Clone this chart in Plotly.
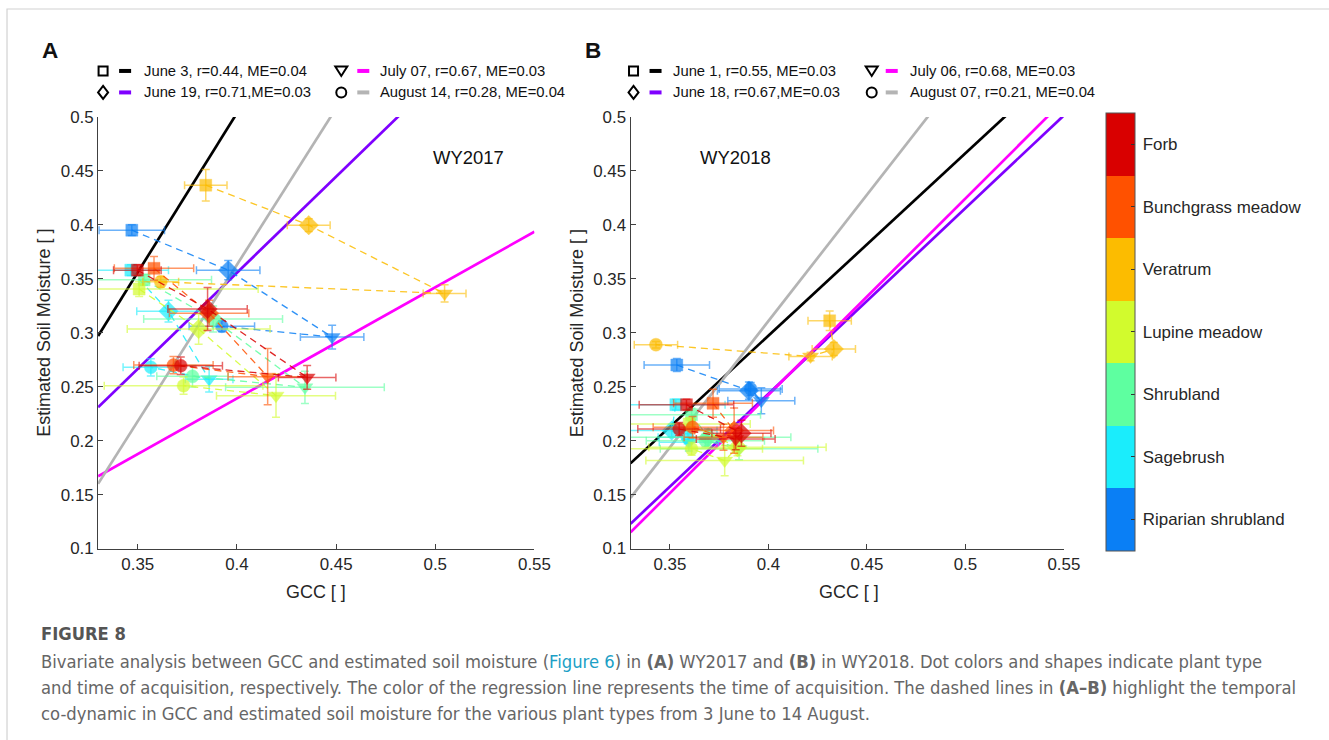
import plotly.graph_objects as go

# The captured picture is the page scaled by (SX, SY) with a small top offset,
# so positions taken from the reference are mapped back through these factors.
SX, SY, TOP = 0.9873, 0.9755, 8.2
FW, FH = 1346, 751

# ---------------- data ----------------
plant_names = ["Riparian shrubland", "Sagebrush", "Shrubland", "Lupine meadow",
               "Veratrum", "Bunchgrass meadow", "Forb"]
plant_colors = ["#0a7ff5", "#1aedfc", "#5effa0", "#d2fb2d", "#fcbc00", "#ff5100", "#d90000"]
date_symbols = ["square", "diamond", "triangle-down", "circle"]
marker_sizes = [12, 15, 14, 13]

legend_A = ["June 3, r=0.44, ME=0.04", "June 19, r=0.71,ME=0.03",
            "July 07, r=0.67, ME=0.03", "August 14, r=0.28, ME=0.04"]
legend_B = ["June 1, r=0.55, ME=0.03", "June 18, r=0.67,ME=0.03",
            "July 06, r=0.68, ME=0.03", "August 07, r=0.21, ME=0.04"]
reg_colors = ["#000000", "#7f00ff", "#ff00ff", "#b4b4b4"]

# regression lines: value at GCC=0.33 and slope
reg_b_A = [0.297, 0.231, 0.167, 0.160]
reg_m_A = [2.95, 1.78, 1.03, 2.90]
reg_b_B = [0.179, 0.123, 0.115, 0.147]
reg_m_B = [1.69, 1.72, 1.82, 2.34]
gcc_span = [0.33, 0.55]

# WY2017 (rows = plant types, columns = June 3, June 19, July 07, August 14)
gcc_A = [[0.347, 0.3956, 0.448, 0.3924],
         [0.3465, 0.3655, 0.386, 0.3566],
         [0.3532, 0.388, 0.4343, 0.3776],
         [0.3507, 0.3807, 0.4197, 0.3731],
         [0.3843, 0.4362, 0.5047, 0.3616],
         [0.3582, 0.386, 0.4155, 0.368],
         [0.3498, 0.3852, 0.4354, 0.3717]]
sm_A = [[0.395, 0.358, 0.296, 0.306],
        [0.358, 0.320, 0.257, 0.268],
        [0.349, 0.3127, 0.2494, 0.2596],
        [0.3405, 0.3034, 0.2417, 0.2509],
        [0.4367, 0.3997, 0.3364, 0.3472],
        [0.3597, 0.318, 0.2593, 0.270],
        [0.358, 0.322, 0.2586, 0.2694]]
gcc_err_A = [[0.0165, 0.016, 0.016, 0.0165],
             [0.019, 0.016, 0.012, 0.014],
             [0.034, 0.035, 0.040, 0.018],
             [0.060, 0.036, 0.030, 0.040],
             [0.0107, 0.0108, 0.0108, 0.009],
             [0.020, 0.020, 0.020, 0.020],
             [0.012, 0.020, 0.0145, 0.021]]
sm_err_A = [[0.005, 0.009, 0.011, 0.005],
            [0.005, 0.010, 0.012, 0.008],
            [0.005, 0.012, 0.015, 0.010],
            [0.007, 0.014, 0.020, 0.008],
            [0.0146, 0.006, 0.008, 0.005],
            [0.011, 0.012, 0.026, 0.008],
            [0.005, 0.020, 0.011, 0.008]]

# WY2018 (columns = June 1, June 18, July 06, August 07)
gcc_B = [[0.3535, 0.3901, 0.3964, 0.391],
         [0.353, 0.3509, 0.3596, 0.359],
         [0.361, 0.3694, 0.3851, 0.368],
         [0.3598, 0.3843, 0.3778, 0.361],
         [0.4311, 0.4332, 0.4214, 0.3429],
         [0.3719, 0.3826, 0.3772, 0.3615],
         [0.3584, 0.3863, 0.3834, 0.3547]]
sm_B = [[0.2701, 0.2463, 0.237, 0.2479],
        [0.2333, 0.2093, 0.1985, 0.2031],
        [0.2241, 0.2031, 0.1924, 0.200],
        [0.2154, 0.1939, 0.1815, 0.1924],
        [0.3111, 0.2849, 0.278, 0.2889],
        [0.2346, 0.2093, 0.2031, 0.2124],
        [0.2333, 0.2068, 0.2016, 0.2108]]
gcc_err_B = [[0.0166, 0.016, 0.017, 0.016],
             [0.025, 0.023, 0.015, 0.015],
             [0.035, 0.042, 0.040, 0.030],
             [0.031, 0.045, 0.040, 0.036],
             [0.011, 0.011, 0.011, 0.011],
             [0.020, 0.020, 0.020, 0.020],
             [0.024, 0.015, 0.020, 0.021]]
sm_err_B = [[0.006, 0.008, 0.012, 0.006],
            [0.005, 0.006, 0.008, 0.006],
            [0.006, 0.008, 0.010, 0.006],
            [0.006, 0.008, 0.014, 0.006],
            [0.009, 0.006, 0.004, 0.003],
            [0.013, 0.021, 0.012, 0.010],
            [0.005, 0.012, 0.010, 0.006]]

x_ticks = [0.35, 0.4, 0.45, 0.5, 0.55]
y_ticks = [0.1, 0.15, 0.2, 0.25, 0.3, 0.35, 0.4, 0.45, 0.5]

# ---------------- helpers ----------------
def rgba(hexc, a):
    h = hexc.lstrip("#")
    return "rgba(%d,%d,%d,%.2f)" % (int(h[0:2], 16), int(h[2:4], 16), int(h[4:6], 16), a)

def PX(x):
    return (x / SX) / FW

def PY(y):
    return 1 - (y / SY - TOP) / FH

def FS(s):
    return s / SY

FONT = "Liberation Sans, Arial, sans-serif"
TXT = "#262626"

fig = go.Figure()

panels = [
    ("x", "y", reg_b_A, reg_m_A, gcc_A, sm_A, gcc_err_A, sm_err_A),
    ("x2", "y2", reg_b_B, reg_m_B, gcc_B, sm_B, gcc_err_B, sm_err_B),
]

for xa, ya, rb, rm, gx, gy, ex, ey in panels:
    for k in range(4):
        yy = [rb[k] + rm[k] * (v - gcc_span[0]) for v in gcc_span]
        fig.add_trace(go.Scatter(x=gcc_span, y=yy, mode="lines", xaxis=xa, yaxis=ya,
                                 line=dict(color=reg_colors[k], width=2.7),
                                 showlegend=False, hoverinfo="skip"))
    for i in range(len(plant_names)):
        col = plant_colors[i]
        fig.add_trace(go.Scatter(
            x=gx[i], y=gy[i], mode="lines+markers", xaxis=xa, yaxis=ya,
            line=dict(color=rgba(col, 0.85), width=1.3, dash="7px,5px"),
            marker=dict(symbol=date_symbols, size=marker_sizes,
                        color=[i] * 4, coloraxis="coloraxis",
                        line=dict(width=0.8, color=rgba(col, 0.5))),
            error_x=dict(type="data", array=ex[i], visible=True,
                         color=rgba(col, 0.6), thickness=1.5, width=4),
            error_y=dict(type="data", array=ey[i], visible=True,
                         color=rgba(col, 0.6), thickness=1.5, width=4),
            name=plant_names[i], showlegend=False))

# discrete colour scale for the plant types
cs = []
n = len(plant_colors)
for i, c in enumerate(plant_colors):
    cs.append([i / n, c])
    cs.append([(i + 1) / n, c])

axis_common = dict(range=[0.33, 0.55], tickvals=x_ticks, ticktext=[str(t) for t in x_ticks],
                   showline=True, linecolor="#404040", linewidth=1, ticks="inside",
                   ticklen=5, tickcolor="#404040", showgrid=False, zeroline=False,
                   tickfont=dict(family=FONT, size=FS(16.5), color=TXT))
yaxis_common = dict(range=[0.1, 0.5], tickvals=y_ticks, ticktext=[str(t) for t in y_ticks],
                    showline=True, linecolor="#404040", linewidth=1, ticks="inside",
                    ticklen=5, tickcolor="#404040", showgrid=False, zeroline=False,
                    tickfont=dict(family=FONT, size=FS(16.5), color=TXT))

ydom = [PY(548), PY(116)]
fig.update_layout(
    width=FW, height=FH, margin=dict(l=0, r=0, t=0, b=0),
    paper_bgcolor="white", plot_bgcolor="white",
    xaxis=dict(domain=[PX(98), PX(534)], anchor="y", **axis_common),
    yaxis=dict(domain=ydom, anchor="x", **yaxis_common),
    xaxis2=dict(domain=[PX(630), PX(1063)], anchor="y2", **axis_common),
    yaxis2=dict(domain=ydom, anchor="x2", **yaxis_common),
    coloraxis=dict(colorscale=cs, cmin=-0.5, cmax=n - 0.5,
                   colorbar=dict(tickvals=list(range(n)),
                                 ticktext=["\u2009" + s for s in plant_names],
                                 x=PX(1105), xanchor="left", xpad=0, ypad=0,
                                 y=PY(331), yanchor="middle",
                                 len=(438 / SY) / FH, lenmode="fraction",
                                 thickness=29 / SX, thicknessmode="pixels",
                                 outlinecolor="#555555", outlinewidth=1,
                                 ticks="inside", ticklen=4, tickcolor="#333333",
                                 tickfont=dict(family=FONT, size=FS(16.5), color=TXT))),
)

ann = []
shapes = []

# frame of the figure page
shapes.append(dict(type="rect", xref="paper", yref="paper", x0=PX(7), x1=PX(1400),
                   y0=PY(8), y1=PY(800), line=dict(color="#d2d2d2", width=1.2)))

# panel letters, axis titles, WY labels
for letter, lx in (("A", 50), ("B", 593)):
    ann.append(dict(text="<b>%s</b>" % letter, x=PX(lx), y=PY(50), xref="paper", yref="paper",
                    showarrow=False, xanchor="center", yanchor="middle",
                    font=dict(family=FONT, size=FS(22), color="#111111")))
for cx in (316, 848):
    ann.append(dict(text="GCC [ ]", x=PX(cx), y=PY(591), xref="paper", yref="paper",
                    showarrow=False, xanchor="center", yanchor="middle",
                    font=dict(family=FONT, size=FS(17.5), color=TXT)))
for cx in (44, 576):
    ann.append(dict(text="Estimated Soil Moisture [ ]", x=PX(cx), y=PY(332), xref="paper",
                    yref="paper", showarrow=False, textangle=-90, xanchor="center",
                    yanchor="middle", font=dict(family=FONT, size=FS(17.5), color=TXT)))
ann.append(dict(text="WY2017", x=PX(468), y=PY(157), xref="paper", yref="paper",
                showarrow=False, xanchor="center", yanchor="middle",
                font=dict(family=FONT, size=FS(18), color="#111111")))
ann.append(dict(text="WY2018", x=PX(735), y=PY(157), xref="paper", yref="paper",
                showarrow=False, xanchor="center", yanchor="middle",
                font=dict(family=FONT, size=FS(18), color="#111111")))

# legends (symbol = date shape, bar = regression line colour)
def add_symbol(kind, sx, sy):
    lw = dict(color="#000000", width=2)
    if kind == 0:
        shapes.append(dict(type="rect", xref="paper", yref="paper", x0=PX(sx - 4.5),
                           x1=PX(sx + 4.5), y0=PY(sy - 4.5), y1=PY(sy + 4.5), line=lw))
    elif kind == 1:
        pts = [(sx, sy - 6.5), (sx + 5, sy), (sx, sy + 6.5), (sx - 5, sy)]
        path = "M " + " L ".join("%.5f,%.5f" % (PX(a), PY(b)) for a, b in pts) + " Z"
        shapes.append(dict(type="path", xref="paper", yref="paper", path=path, line=lw))
    elif kind == 2:
        pts = [(sx - 6, sy - 4.5), (sx + 6, sy - 4.5), (sx, sy + 5)]
        path = "M " + " L ".join("%.5f,%.5f" % (PX(a), PY(b)) for a, b in pts) + " Z"
        shapes.append(dict(type="path", xref="paper", yref="paper", path=path, line=lw))
    else:
        shapes.append(dict(type="circle", xref="paper", yref="paper", x0=PX(sx - 5),
                           x1=PX(sx + 5), y0=PY(sy - 5), y1=PY(sy + 5), line=lw))

legend_layouts = [
    (legend_A, [(103, 119, 142), (341, 357, 378)]),
    (legend_B, [(633, 649, 670), (871, 885, 907)]),
]
rows_y = [70, 91.5]
for labels, cols in legend_layouts:
    for k in range(4):
        c, r = k // 2, k % 2
        sx, bx, tx = cols[c]
        sy = rows_y[r]
        add_symbol(k, sx, sy)
        shapes.append(dict(type="rect", xref="paper", yref="paper", x0=PX(bx), x1=PX(bx + 12),
                           y0=PY(sy - 2), y1=PY(sy + 2), fillcolor=reg_colors[k],
                           line=dict(width=0)))
        ann.append(dict(text=labels[k], x=PX(tx), y=PY(sy), xref="paper", yref="paper",
                        showarrow=False, xanchor="left", yanchor="middle",
                        font=dict(family=FONT, size=14.8, color="#111111")))

# caption
CAP = "DejaVu Sans Condensed, Liberation Sans Narrow, Arial Narrow, sans-serif"
ann.append(dict(text="<b>FIGURE 8</b>", x=PX(39), y=PY(633), xref="paper", yref="paper",
                showarrow=False, xanchor="left", yanchor="middle",
                font=dict(family=CAP, size=18.2, color="#555555")))
cap_lines = [
    'Bivariate analysis between GCC and estimated soil moisture (<span style="color:#1c9fc6">Figure 6</span>) in <b>(A)</b> WY2017 and <b>(B)</b> in WY2018. Dot colors and shapes indicate plant type',
    'and time of acquisition, respectively. The color of the regression line represents the time of acquisition. The dashed lines in <b>(A\u2013B)</b> highlight the temporal',
    'co-dynamic in GCC and estimated soil moisture for the various plant types from 3 June to 14 August.',
]
for j, line in enumerate(cap_lines):
    ann.append(dict(text=line, x=PX(39), y=PY(661 + 26 * j), xref="paper", yref="paper",
                    showarrow=False, xanchor="left", yanchor="middle",
                    font=dict(family=CAP, size=18.24, color="#666666")))

fig.update_layout(annotations=ann, shapes=shapes)
fig.write_html("out.html")
